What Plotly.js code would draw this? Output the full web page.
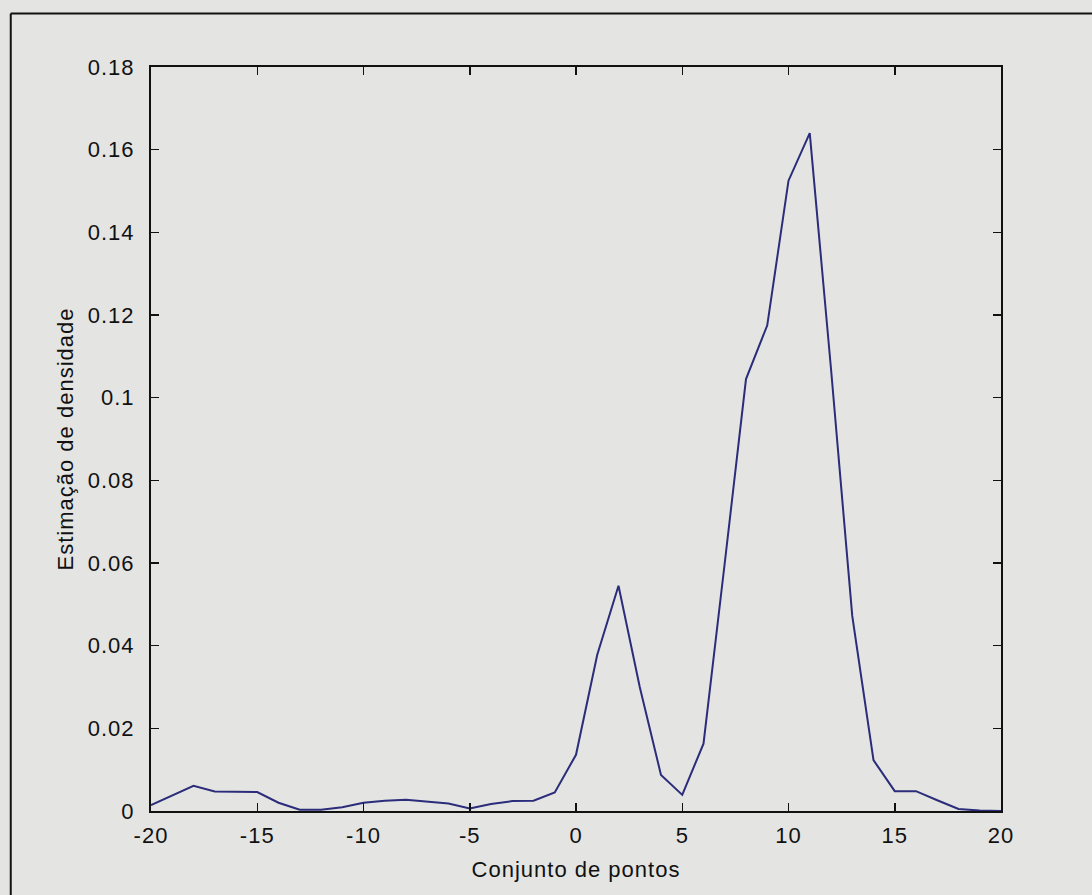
<!DOCTYPE html>
<html>
<head>
<meta charset="utf-8">
<script src="https://cdn.plot.ly/plotly-3.0.1.min.js"></script>
<style>
  html, body { margin: 0; padding: 0; background: #e4e5e2; }
  #chart { width: 1092px; height: 895px; }
  /* slightly open letter spacing, as in the printed figure */
  #chart svg text { letter-spacing: 1px; }
</style>
</head>
<body>
<div id="chart"></div>
<script>
// Kernel density estimate evaluated on the integer grid -20..20
const pontos = [
  -20, -19, -18, -17, -16, -15, -14, -13, -12, -11,
  -10, -9, -8, -7, -6, -5, -4, -3, -2, -1,
  0, 1, 2, 3, 4, 5, 6, 7, 8, 9,
  10, 11, 12, 13, 14, 15, 16, 17, 18, 19, 20
];
const densidade = [
  0.0014, 0.0038, 0.0061, 0.0047, 0.0046, 0.0046, 0.0020, 0.0003, 0.0003, 0.0009,
  0.0020, 0.0025, 0.0027, 0.0023, 0.0018, 0.0006, 0.0017, 0.0024, 0.0025, 0.0045,
  0.0136, 0.0378, 0.0545, 0.0300, 0.0087, 0.0039, 0.0163, 0.0600, 0.1045, 0.1175,
  0.1525, 0.1640, 0.1070, 0.0472, 0.0123, 0.0048, 0.0048, 0.0026, 0.0005, 0.0001, 0.0000
];

const xTickVals = [-20, -15, -10, -5, 0, 5, 10, 15, 20];
const xTickText = ['-20', '-15', '-10', '-5', '0', '5', '10', '15', '20'];
const yTickVals = [0, 0.02, 0.04, 0.06, 0.08, 0.1, 0.12, 0.14, 0.16, 0.18];
const yTickText = ['0', '0.02', '0.04', '0.06', '0.08', '0.1', '0.12', '0.14', '0.16', '0.18'];

const bg = '#e4e5e2';
const fontFamily = 'Arial, "Liberation Sans", Helvetica, sans-serif';
const ink = '#111111';

const trace = {
  x: pontos,
  y: densidade,
  type: 'scatter',
  mode: 'lines',
  line: { color: '#2b2c7a', width: 2 },
  hoverinfo: 'x+y'
};

const axisCommon = {
  showgrid: false,
  zeroline: false,
  showline: true,
  linecolor: ink,
  linewidth: 2,
  mirror: 'ticks',
  ticks: 'inside',
  ticklen: 8,
  tickwidth: 1.5,
  tickcolor: ink,
  tickfont: { family: fontFamily, size: 22, color: ink }
};

const layout = {
  width: 1092,
  height: 895,
  paper_bgcolor: bg,
  plot_bgcolor: bg,
  showlegend: false,
  margin: { l: 151, r: 91, t: 67, b: 84 },
  xaxis: Object.assign({}, axisCommon, {
    range: [-20, 20],
    tickmode: 'array',
    tickvals: xTickVals,
    ticktext: xTickText,
    ticklabelstandoff: 4,
    title: { text: 'Conjunto de pontos', font: { family: fontFamily, size: 22, color: ink }, standoff: 14 }
  }),
  yaxis: Object.assign({}, axisCommon, {
    range: [0, 0.18],
    tickmode: 'array',
    tickvals: yTickVals,
    ticktext: yTickText,
    ticklabelstandoff: 10,
    title: { text: 'Estimação de densidade', font: { family: fontFamily, size: 22, color: ink }, standoff: 12 }
  }),
  shapes: [
    // page frame around the figure
    { type: 'line', xref: 'paper', yref: 'paper', x0: -0.165, x1: 1.12, y0: 1.072, y1: 1.072,
      line: { color: ink, width: 2 } },
    { type: 'line', xref: 'paper', yref: 'paper', x0: -0.165, x1: -0.165, y0: 1.072, y1: -0.12,
      line: { color: ink, width: 2 } }
  ]
};

Plotly.newPlot('chart', [trace], layout, { displayModeBar: false, staticPlot: true });
</script>
</body>
</html>
